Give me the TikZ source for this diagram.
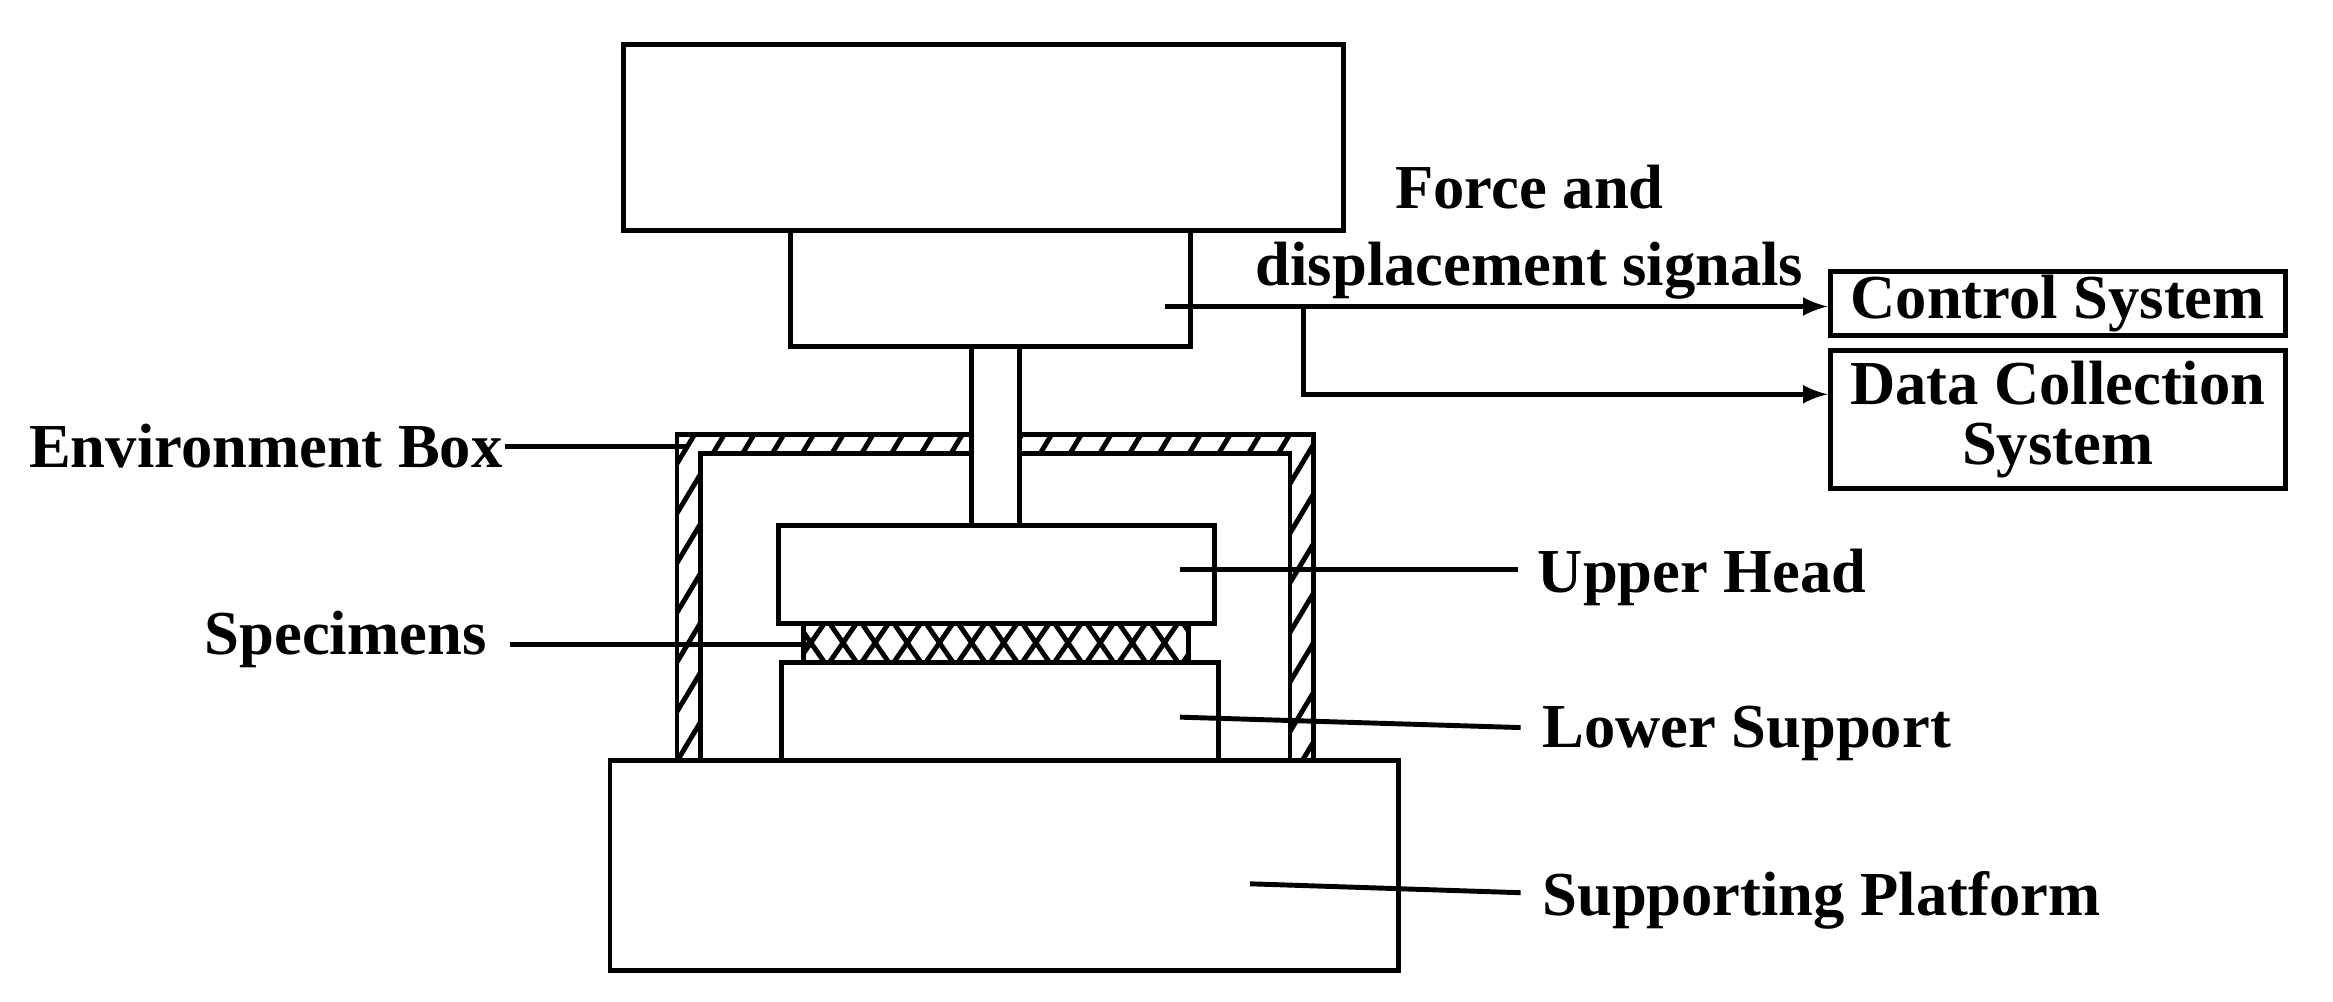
\documentclass[tikz,border=0pt]{standalone}
\usepackage{fontspec}
\setmainfont{Liberation Serif}
\usetikzlibrary{arrows,positioning}
\begin{document}
\begin{tikzpicture}[x=0.01488cm, y=-0.01488cm, line width=1.4pt,
  lbl/.style={font=\fontsize{17.8}{19}\selectfont\bfseries, inner sep=0pt},
  sysbox/.style={draw, line width=1.4pt, minimum width=4.55cm, align=center,
    font=\fontsize{17.8}{17}\selectfont\bfseries, inner sep=1pt}]
\useasboundingbox (0,0) rectangle (1568,673);

%Machine frame
\draw (419,30) rectangle (903,155);
\draw (531,155) rectangle (800,233);

%Environment box with hatched walls
\begin{scope}
\clip (455,511) -- (455,292) -- (883,292) -- (883,511) -- (867,511) -- (867,305) -- (471,305) -- (471,511) -- cycle;
\foreach \x in {0,...,36}
  \draw (150+\x*20,520) -- ++(300,-500);
\end{scope}
\draw (455,511) -- (455,292) -- (883,292) -- (883,511) -- (867,511) -- (867,305) -- (471,305) -- (471,511) -- cycle;

%Rod
\draw[fill=white] (653,233) rectangle (685,353);

%Upper head, specimens, lower support
\draw (523,353) rectangle (816,419);
\begin{scope}
\clip (540,419) rectangle (799,445);
\foreach \x in {0,...,12} {
  \draw (536+\x*21.6,445) -- ++(18,-26);
  \draw (536+\x*21.6,419) -- ++(18,26);
}
\end{scope}
\draw (540,419) rectangle (799,445);
\draw (525,511) -- (525,445) -- (819,445) -- (819,511);

%Supporting platform
\draw (410,511) rectangle (940,652);

%Labels
\node[lbl, anchor=west] (envbox) at (18,300) {Environment Box};
\node[lbl, anchor=west] (spec) at (136,430) {Specimens};
\node[lbl, anchor=west] (uphead) at (1032,388) {Upper Head};
\node[lbl, anchor=west] (lowsup) at (1035,493) {Lower Support};
\node[lbl, anchor=west] (platform) at (1035,605) {Supporting Platform};
\node[lbl, align=center] (signals) at (1028,156) {Force and\\[3pt]displacement signals};

\coordinate (envend) at (463,300);
\coordinate (specend) at (545,433);
\coordinate (upend) at (793,383);
\coordinate (lowend) at (793,482);
\coordinate (platend) at (840,594);
\draw (envbox.east) -- (envend);
\draw (spec.east) ++(14,3) -- (specend);
\draw (upend) -- ++(227,0);
\draw (lowend) -- (1022,489);
\draw (platend) -- (1022,600);

%Signal outputs
\node[sysbox, minimum height=0.62cm] (control) at (1383,204) {Control System};
\node[sysbox, minimum height=1.38cm] (datasys) at (1383,282) {Data Collection\\System};
\coordinate (sigstart) at (783,206);
\coordinate (branch) at (876,206);
\draw[-latex] (sigstart) -- (control.west |- sigstart);
\draw[-latex] (branch) |- (datasys.west |- 0,265);
\end{tikzpicture}
\end{document}
